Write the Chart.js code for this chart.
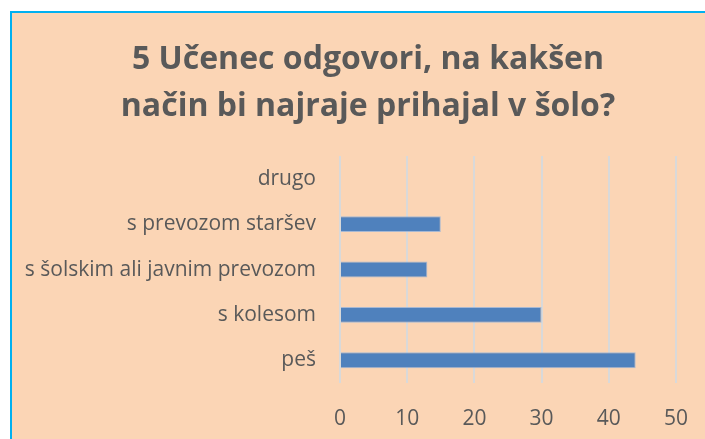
<!DOCTYPE html>
<html>
<head>
<meta charset="utf-8">
<script src="https://cdn.jsdelivr.net/npm/chart.js@4"></script>
<style>
  html, body { margin: 0; padding: 0; background: #ffffff; overflow: hidden; }
  #box {
    position: absolute; left: 10px; top: 11px;
    width: 712px; height: 428px;
    background: #fbd5b5;
    border-left: 2px solid #00b0f0;
    border-top: 2px solid #00b0f0;
  }
</style>
</head>
<body>
<div id="box"><canvas id="chart" width="712" height="426"></canvas></div>
<script>
var naslov = ['5 Učenec odgovori, na kakšen', 'način bi najraje prihajal v šolo?'];
var odgovori = ['drugo', 's prevozom staršev', 's šolskim ali javnim prevozom', 's kolesom', 'peš'];
var stevilo = [0, 15, 13, 30, 44];
var osX = { min: 0, max: 50, korak: 10 };

var ctx = document.getElementById('chart').getContext('2d');

var chart = new Chart(ctx, {
    type: 'bar',
    data: {
        labels: odgovori,
        datasets: [{
            label: 'Število',
            data: stevilo,
            backgroundColor: '#4f81bd',
            borderColor: '#a7b8d2',
            borderWidth: 1,
            categoryPercentage: 1,
            barPercentage: 0.35
        }]
    },
    options: {
        indexAxis: 'y',
        responsive: false,
        animation: false,
        layout: { padding: { top: 23, left: 0, right: 0, bottom: 0 } },
        scales: {
            x: {
                min: osX.min,
                max: osX.max,
                ticks: {
                    stepSize: osX.korak,
                    color: '#595959',
                    padding: 23,
                    font: { family: 'Open Sans', size: 21 }
                },
                grid: { color: '#d9d9d9', lineWidth: 2, drawTicks: false },
                border: { display: false },
                afterFit: function(scale) { scale.height = 56; }
            },
            y: {
                ticks: {
                    color: '#595959',
                    padding: 24,
                    font: { family: 'Open Sans', size: 21 }
                },
                grid: { display: false, drawTicks: false },
                border: { display: false },
                afterFit: function(scale) { scale.width = 328; }
            },
            desno: {
                type: 'linear',
                position: 'right',
                ticks: { display: false },
                grid: { display: false, drawTicks: false },
                border: { display: false },
                afterFit: function(scale) { scale.width = 48; }
            }
        },
        plugins: {
            legend: { display: false },
            tooltip: { enabled: false },
            title: {
                display: true,
                text: naslov,
                color: '#595959',
                padding: { top: 0, bottom: 26 },
                font: { family: 'Open Sans', size: 32, weight: 'bold', lineHeight: 1.47 }
            }
        }
    }
});
</script>
</body>
</html>
